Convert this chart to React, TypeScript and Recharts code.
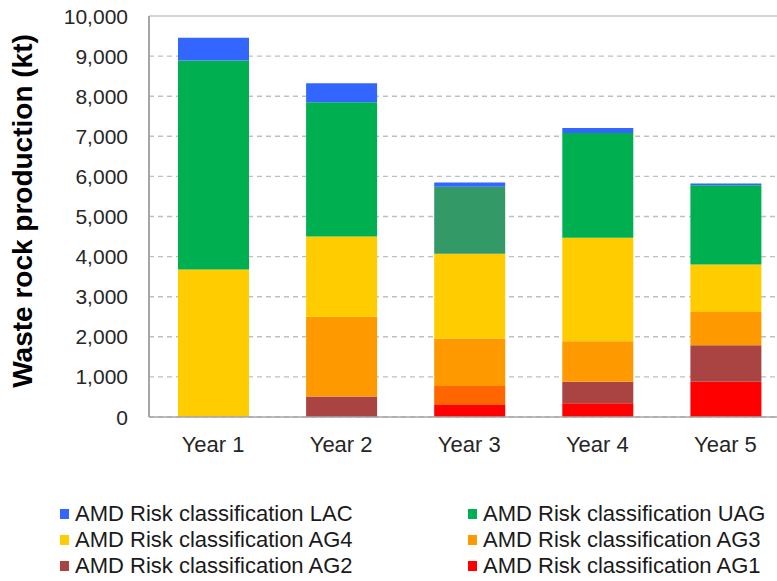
import React from 'react';
import { BarChart, Bar, XAxis, YAxis, CartesianGrid, ReferenceLine, Cell } from 'recharts';

const categories = ['Year 1', 'Year 2', 'Year 3', 'Year 4', 'Year 5'];
const ag1 = [0, 0, 300, 340, 880];
const ag2 = [0, 510, 470, 540, 910];
const ag3 = [0, 1990, 1190, 1010, 830];
const ag4 = [3680, 2000, 2110, 2580, 1180];
const uag = [5210, 3350, 1670, 2610, 1980];
const lac = [570, 470, 110, 130, 40];
const yTicks = [0, 1000, 2000, 3000, 4000, 5000, 6000, 7000, 8000, 9000, 10000];

const seriesKeys = ['ag1', 'ag2', 'ag3', 'ag4', 'uag', 'lac'];
const seriesNames: Record<string, string> = {
  ag1: 'AMD Risk classification AG1',
  ag2: 'AMD Risk classification AG2',
  ag3: 'AMD Risk classification AG3',
  ag4: 'AMD Risk classification AG4',
  uag: 'AMD Risk classification UAG',
  lac: 'AMD Risk classification LAC',
};
const seriesValues: Record<string, number[]> = { ag1, ag2, ag3, ag4, uag, lac };
const seriesColors: Record<string, string> = {
  ag1: '#FF0000',
  ag2: '#A94442',
  ag3: '#FF9900',
  ag4: '#FFCC00',
  uag: '#00B050',
  lac: '#3366FF',
};
// colours of single cells that differ from their series colour
const cellOverrides: Record<string, Record<number, string>> = {
  ag2: { 2: '#FF6600' },
  uag: { 2: '#339966' },
};
const legendOrder = ['lac', 'uag', 'ag4', 'ag3', 'ag2', 'ag1'];

const data = categories.map((c, i) => {
  const row: Record<string, string | number> = { name: c };
  seriesKeys.forEach((k) => {
    row[k] = seriesValues[k][i];
  });
  return row;
});

const FONT = '"Liberation Sans", Arial, Helvetica, sans-serif';

const fmt = (v: number) => v.toLocaleString('en-US');

const YTick = (props: any) => {
  const { x, y, payload } = props;
  return (
    <text x={x} y={y} dy="0.36em" textAnchor="end" fontSize={21} fill="#262626" fontFamily={FONT}>
      {fmt(payload.value)}
    </text>
  );
};

const XTick = (props: any) => {
  const { x, y, payload } = props;
  return (
    <text x={x} y={y} dy="0.71em" textAnchor="middle" fontSize={22} fill="#262626" fontFamily={FONT}>
      {payload.value}
    </text>
  );
};

const YLabel = () => (
  <text
    x={22}
    y={211}
    transform="rotate(-90 22 211)"
    textAnchor="middle"
    dominantBaseline="central"
    fontSize={28}
    fontWeight="bold"
    fill="#000"
    fontFamily={FONT}
  >
    Waste rock production (kt)
  </text>
);

export default function App() {
  return (
    <div
      style={{
        position: 'fixed',
        left: 0,
        top: 0,
        width: 777,
        height: 581,
        overflow: 'hidden',
        background: '#fff',
        fontFamily: FONT,
      }}
    >
      <BarChart
        width={800}
        height={457}
        data={data}
        margin={{ top: 16, right: 10.5, left: 0, bottom: 0 }}
        barSize={71}
      >
        <CartesianGrid vertical={false} stroke="#BFBFBF" strokeDasharray="5 4" strokeWidth={1.4} />
        <XAxis
          dataKey="name"
          height={40}
          tickLine={false}
          tickSize={0}
          tickMargin={19}
          axisLine={{ stroke: '#A6A6A6', strokeWidth: 1.5 }}
          tick={<XTick />}
          interval={0}
        />
        <YAxis
          width={149}
          domain={[0, 10000]}
          ticks={yTicks}
          interval={0}
          tickLine={false}
          tickSize={0}
          tickMargin={21}
          axisLine={{ stroke: '#A6A6A6', strokeWidth: 2 }}
          tick={<YTick />}
          label={<YLabel />}
        />
        {seriesKeys.map((k) => (
          <Bar key={k} dataKey={k} name={seriesNames[k]} stackId="a" fill={seriesColors[k]} isAnimationActive={false}>
            {categories.map((c, i) => (
              <Cell key={c} fill={(cellOverrides[k] && cellOverrides[k][i]) || seriesColors[k]} />
            ))}
          </Bar>
        ))}
        <ReferenceLine y={10000} stroke="#D4D4D4" strokeWidth={2} />
      </BarChart>
      <div
        style={{
          position: 'absolute',
          left: 0,
          top: 501,
          width: 777,
          display: 'grid',
          gridTemplateColumns: '408px 369px',
          gridAutoRows: '26px',
          fontSize: 22,
          color: '#1a1a1a',
          paddingLeft: 60,
          boxSizing: 'border-box',
        }}
      >
        {legendOrder.map((k) => (
          <div key={k} style={{ display: 'flex', alignItems: 'center', whiteSpace: 'nowrap', lineHeight: '26px' }}>
            <span style={{ display: 'inline-block', width: 9, height: 10, background: seriesColors[k], marginRight: 6 }} />
            <span>{seriesNames[k]}</span>
          </div>
        ))}
      </div>
    </div>
  );
}
